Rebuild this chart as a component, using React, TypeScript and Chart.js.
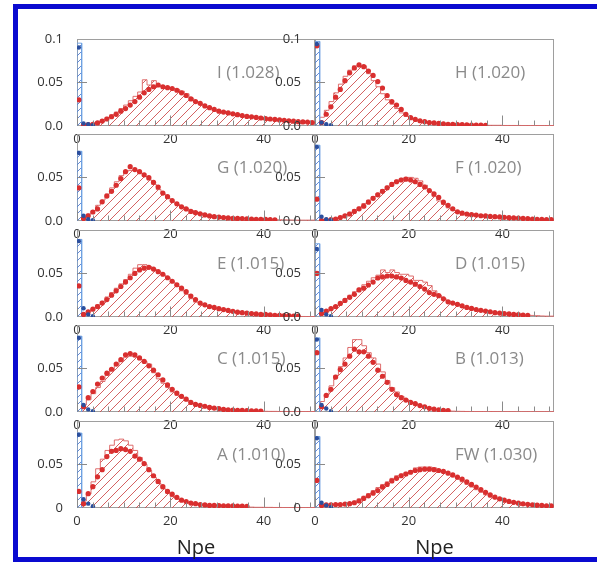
import React, { useEffect, useRef } from 'react';
import { Chart, registerables } from 'chart.js';
Chart.register(...registerables);

// ---- data: bins 0..50 (bin i spans [i, i+1]) ----
const I_DOTS = [0.030, 0.001, 0.0015, 0.002, 0.0035, 0.0056, 0.008, 0.0106, 0.0134, 0.017,
  0.020, 0.024, 0.028, 0.033, 0.038, 0.042, 0.045, 0.047, 0.045, 0.044,
  0.043, 0.041, 0.038, 0.035, 0.031, 0.028, 0.026, 0.023, 0.021, 0.019,
  0.017, 0.016, 0.015, 0.014, 0.013, 0.012, 0.011, 0.0105, 0.0098, 0.0092,
  0.0085, 0.008, 0.0075, 0.007, 0.0065, 0.006, 0.0055, 0.005, 0.0047, 0.0045,
  0.004];
const I_HIST = [0, 0, 0.001, 0.002, 0.003, 0.005, 0.007, 0.010, 0.013, 0.016,
  0.020, 0.024, 0.029, 0.034, 0.039, 0.053, 0.047, 0.052, 0.046, 0.045,
  0.044, 0.043, 0.042, 0.040, 0.037, 0.032, 0.028, 0.025, 0.022, 0.020,
  0.018, 0.0165, 0.015, 0.014, 0.013, 0.012, 0.011, 0.0105, 0.0098, 0.0092,
  0.0085, 0.008, 0.0075, 0.007, 0.0065, 0.006, 0.0055, 0.005, 0.0047, 0.0045,
  0.004];
const I_PED = 0.095;
const I_BLUE = [0.090, 0.003, 0.002, 0.001];

const H_DOTS = [0.092, 0.004, 0.0135, 0.022, 0.033, 0.042, 0.052, 0.061, 0.0665, 0.070,
  0.068, 0.063, 0.058, 0.051, 0.0435, 0.035, 0.028, 0.024, 0.019, 0.0135,
  0.0095, 0.0075, 0.006, 0.005, 0.004, 0.0035, 0.003, 0.0025, 0.002, 0.002,
  0.0015, 0.0015, 0.0012, 0.001, 0.001, 0.001, 0.0008, null, null, null,
  null, null, null, null, null, null, null, null, null, null,
  null];
const H_HIST = [0, 0.003, 0.010, 0.018, 0.028, 0.038, 0.048, 0.057, 0.064, 0.069,
  0.069, 0.069, 0.060, 0.052, 0.045, 0.037, 0.030, 0.025, 0.020, 0.015,
  0.011, 0.008, 0.0065, 0.005, 0.004, 0.0035, 0.003, 0.0025, 0.002, 0.002,
  0.0015, 0.0015, 0.0012, 0.001, 0.001, 0.001, 0.001, 0.0008, 0.0008, 0.0008,
  0.0008, 0.0006, 0.0006, 0.0006, 0.0006, 0.0005, 0.0005, 0.0005, 0.0005, 0.0005,
  0.0005];
const H_PED = 0.097;
const H_BLUE = [0.094, 0.004, 0.002, 0.001];

const G_DOTS = [0.038, 0.003, 0.006, 0.0103, 0.0139, 0.022, 0.0286, 0.034, 0.041, 0.0486,
  0.0566, 0.0623, 0.059, 0.0566, 0.053, 0.0497, 0.0444, 0.039, 0.032, 0.0279,
  0.0234, 0.0198, 0.0163, 0.0139, 0.011, 0.0095, 0.0082, 0.007, 0.0058, 0.005,
  0.0045, 0.004, 0.0035, 0.003, 0.003, 0.0028, 0.0025, 0.0022, 0.002, 0.002,
  0.0018, 0.0015, 0.0012, null, null, null, null, null, null, null,
  null];
const G_HIST = [0, 0.002, 0.005, 0.008, 0.012, 0.018, 0.024, 0.031, 0.038, 0.045,
  0.052, 0.057, 0.058, 0.058, 0.055, 0.051, 0.047, 0.042, 0.036, 0.031,
  0.026, 0.022, 0.019, 0.016, 0.014, 0.012, 0.010, 0.0085, 0.007, 0.006,
  0.0055, 0.005, 0.0045, 0.004, 0.0035, 0.003, 0.0028, 0.0026, 0.0024, 0.0022,
  0.002, 0.0018, 0.0016, 0.0015, 0.0014, 0.0013, 0.0012, 0.0011, 0.001, 0.001,
  0.001];
const G_PED = 0.080;
const G_BLUE = [0.078, 0.006, 0.002, 0.001];

const F_DOTS = [0.025, 0.0005, 0.001, 0.0015, 0.0023, 0.004, 0.0058, 0.008, 0.011, 0.014,
  0.017, 0.0216, 0.026, 0.030, 0.034, 0.038, 0.042, 0.045, 0.047, 0.048,
  0.047, 0.045, 0.042, 0.039, 0.035, 0.031, 0.027, 0.0216, 0.018, 0.014,
  0.0105, 0.009, 0.008, 0.0072, 0.0068, 0.006, 0.0058, 0.0053, 0.005, 0.0047,
  0.0042, 0.0038, 0.0035, 0.0034, 0.003, 0.0027, 0.0023, 0.002, 0.0018, 0.0016,
  0.0015];
const F_HIST = [0, 0.0005, 0.001, 0.0015, 0.002, 0.0035, 0.0055, 0.0075, 0.010, 0.013,
  0.016, 0.020, 0.024, 0.028, 0.032, 0.036, 0.040, 0.044, 0.047, 0.049,
  0.050, 0.050, 0.049, 0.046, 0.041, 0.034, 0.028, 0.023, 0.019, 0.015,
  0.012, 0.010, 0.0085, 0.0075, 0.007, 0.0062, 0.0058, 0.0054, 0.005, 0.0046,
  0.0042, 0.0038, 0.0035, 0.0032, 0.003, 0.0027, 0.0024, 0.0021, 0.0019, 0.0017,
  0.0015];
const F_PED = 0.087;
const F_BLUE = [0.085, 0.005, 0.002, 0.001];

const E_DOTS = [0.0356, 0.003, 0.006, 0.009, 0.012, 0.016, 0.020, 0.025, 0.030, 0.035,
  0.040, 0.045, 0.050, 0.054, 0.056, 0.057, 0.055, 0.052, 0.049, 0.045,
  0.041, 0.037, 0.033, 0.029, 0.024, 0.020, 0.016, 0.014, 0.012, 0.011,
  0.0095, 0.0085, 0.0075, 0.0065, 0.0055, 0.005, 0.0045, 0.004, 0.0035, 0.003,
  0.003, 0.0025, 0.002, 0.002, 0.0015, 0.0015, 0.001, 0.001, null, null,
  null];
const E_HIST = [0, 0.002, 0.004, 0.007, 0.010, 0.014, 0.018, 0.023, 0.028, 0.033,
  0.038, 0.043, 0.049, 0.056, 0.060, 0.060, 0.058, 0.055, 0.052, 0.048,
  0.045, 0.040, 0.035, 0.030, 0.026, 0.021, 0.017, 0.0145, 0.0125, 0.011,
  0.0097, 0.0087, 0.0077, 0.0067, 0.0058, 0.0052, 0.0046, 0.0041, 0.0036, 0.0032,
  0.003, 0.0026, 0.0022, 0.002, 0.0017, 0.0015, 0.0012, 0.001, 0.0008, 0.0006,
  0.0005];
const E_PED = 0.089;
const E_BLUE = [0.087, 0.010, 0.003, 0.001];

const D_DOTS = [0.050, 0.004, 0.0068, 0.0096, 0.012, 0.0156, 0.019, 0.0226, 0.026, 0.031,
  0.033, 0.0367, 0.040, 0.0447, 0.046, 0.047, 0.047, 0.046, 0.0447, 0.042,
  0.040, 0.0377, 0.035, 0.032, 0.028, 0.026, 0.0244, 0.0208, 0.0174, 0.016,
  0.0145, 0.0128, 0.011, 0.0098, 0.0086, 0.0077, 0.0068, 0.006, 0.005, 0.0045,
  0.004, 0.0035, 0.003, 0.0027, 0.0023, 0.002, null, null, null, null,
  null];
const D_HIST = [0, 0.002, 0.004, 0.006, 0.009, 0.013, 0.017, 0.021, 0.025, 0.029,
  0.033, 0.037, 0.041, 0.045, 0.048, 0.054, 0.051, 0.054, 0.051, 0.049,
  0.049, 0.047, 0.042, 0.042, 0.040, 0.036, 0.030, 0.025, 0.021, 0.018,
  0.015, 0.013, 0.011, 0.0095, 0.0085, 0.0075, 0.0065, 0.0058, 0.005, 0.0045,
  0.004, 0.0035, 0.003, 0.0028, 0.0025, 0.0022, 0.002, 0.0018, 0.0015, 0.0012,
  0.001];
const D_PED = 0.084;
const D_BLUE = [0.078, 0.008, 0.003, 0.001];

const C_DOTS = [0.0287, 0.006, 0.0164, 0.0235, 0.032, 0.039, 0.0445, 0.049, 0.055, 0.060,
  0.0656, 0.067, 0.0656, 0.062, 0.058, 0.053, 0.048, 0.0427, 0.0368, 0.031,
  0.026, 0.0217, 0.018, 0.0147, 0.011, 0.0087, 0.0075, 0.0066, 0.0053, 0.0045,
  0.0038, 0.003, 0.0024, 0.0022, 0.002, 0.0018, 0.0015, 0.0013, 0.0012, 0.001,
  null, null, null, null, null, null, null, null, null, null,
  null];
const C_HIST = [0, 0.003, 0.008, 0.014, 0.021, 0.028, 0.035, 0.042, 0.048, 0.054,
  0.059, 0.063, 0.064, 0.063, 0.060, 0.058, 0.055, 0.045, 0.038, 0.033,
  0.028, 0.023, 0.019, 0.016, 0.013, 0.010, 0.008, 0.007, 0.006, 0.005,
  0.004, 0.0035, 0.003, 0.0025, 0.002, 0.0018, 0.0016, 0.0014, 0.0012, 0.001,
  0.0008, 0.0008, 0.0007, 0.0007, 0.0006, 0.0006, 0.0005, 0.0005, 0.0005, 0.0005,
  0.0005];
const C_PED = 0.087;
const C_BLUE = [0.085, 0.008, 0.003, 0.001];

const B_DOTS = [0.068, 0.006, 0.019, 0.026, 0.040, 0.0487, 0.055, 0.064, 0.072, 0.069,
  0.069, 0.064, 0.057, 0.048, 0.041, 0.034, 0.026, 0.020, 0.0164, 0.0137,
  0.011, 0.0095, 0.0074, 0.006, 0.0042, 0.0032, 0.0025, 0.002, 0.0015, null,
  null, null, null, null, null, null, null, null, null, null,
  null, null, null, null, null, null, null, null, null, null,
  null];
const B_HIST = [0, 0.004, 0.012, 0.020, 0.030, 0.042, 0.052, 0.062, 0.074, 0.083,
  0.083, 0.076, 0.068, 0.062, 0.055, 0.046, 0.036, 0.028, 0.023, 0.018,
  0.014, 0.011, 0.009, 0.007, 0.005, 0.004, 0.003, 0.0025, 0.002, 0.0015,
  0.001, 0.0008, 0.0007, 0.0006, 0.0005, 0.0005, 0.0005, 0.0005, 0.0005, 0.0005,
  0.0004, 0.0004, 0.0004, 0.0004, 0.0004, 0.0004, 0.0004, 0.0004, 0.0004, 0.0004,
  0.0004];
const B_PED = 0.085;
const B_BLUE = [0.083, 0.008, 0.004, 0.001];

const A_DOTS = [0.019, 0.005, 0.0164, 0.0245, 0.0358, 0.044, 0.059, 0.065, 0.066, 0.068,
  0.067, 0.065, 0.0596, 0.056, 0.051, 0.044, 0.037, 0.0305, 0.0245, 0.019,
  0.0158, 0.0122, 0.009, 0.0074, 0.0056, 0.005, 0.004, 0.0035, 0.003, 0.003,
  0.0028, 0.0026, 0.0025, 0.0024, 0.0023, 0.0022, 0.002, null, null, null,
  null, null, null, null, null, null, null, null, null, null,
  null];
const A_HIST = [0, 0.003, 0.008, 0.016, 0.030, 0.045, 0.056, 0.066, 0.072, 0.078,
  0.079, 0.077, 0.072, 0.066, 0.058, 0.050, 0.043, 0.035, 0.028, 0.022,
  0.017, 0.013, 0.010, 0.008, 0.006, 0.005, 0.004, 0.0035, 0.003, 0.003,
  0.0025, 0.0025, 0.002, 0.002, 0.002, 0.0018, 0.0015, 0.0012, 0.001, 0.0008,
  0.0008, 0.0007, 0.0007, 0.0006, 0.0006, 0.0005, 0.0005, 0.0005, 0.0005, 0.0005,
  0.0005];
const A_PED = 0.086;
const A_BLUE = [0.084, 0.010, 0.005, 0.002];

const FW_DOTS = [0.0316, 0.003, 0.0035, 0.0035, 0.004, 0.004, 0.0045, 0.005, 0.006, 0.008,
  0.011, 0.014, 0.017, 0.020, 0.024, 0.027, 0.031, 0.034, 0.037, 0.039,
  0.041, 0.043, 0.044, 0.0445, 0.0445, 0.044, 0.043, 0.042, 0.040, 0.038,
  0.0355, 0.033, 0.030, 0.027, 0.024, 0.021, 0.018, 0.015, 0.0125, 0.0105,
  0.009, 0.0075, 0.0065, 0.0055, 0.0048, 0.0042, 0.0037, 0.0032, 0.0029, 0.0026,
  0.0024];
const FW_HIST = [0, 0.002, 0.003, 0.0035, 0.0038, 0.004, 0.0045, 0.005, 0.006, 0.008,
  0.0105, 0.0135, 0.0165, 0.020, 0.0235, 0.027, 0.030, 0.034, 0.037, 0.039,
  0.041, 0.043, 0.046, 0.047, 0.047, 0.047, 0.046, 0.043, 0.041, 0.038,
  0.0355, 0.033, 0.030, 0.027, 0.024, 0.021, 0.018, 0.015, 0.0125, 0.0105,
  0.009, 0.0075, 0.0065, 0.0055, 0.0048, 0.0042, 0.0037, 0.0032, 0.0029, 0.0026,
  0.0024];
const FW_PED = 0.082;
const FW_BLUE = [0.080, 0.006, 0.003, 0.001];

const X_TICKS = [0, 20, 40];
const X_TICK_LABELS = ['0', '20', '40'];
const Y_TICKS = [0, 0.05, 0.1];
const Y_LABELS_TOP = ['0.0', '0.05', '0.1'];
const Y_LABELS_MID = ['0.0', '0.05', ''];
const Y_LABELS_BOTTOM = ['0', '0.05', ''];
const X_MAX = 51;
const Y_MAX = 0.1;
const MINOR_STEP = 20 / 6;

type PanelDef = {
  name: string; dots: (number | null)[]; hist: number[]; ped: number; blue: number[];
  col: number; row: number; yLabels: string[];
};

const PANELS: PanelDef[] = [
  { name: 'I (1.028)', dots: I_DOTS, hist: I_HIST, ped: I_PED, blue: I_BLUE, col: 0, row: 0, yLabels: Y_LABELS_TOP },
  { name: 'H (1.020)', dots: H_DOTS, hist: H_HIST, ped: H_PED, blue: H_BLUE, col: 1, row: 0, yLabels: Y_LABELS_TOP },
  { name: 'G (1.020)', dots: G_DOTS, hist: G_HIST, ped: G_PED, blue: G_BLUE, col: 0, row: 1, yLabels: Y_LABELS_MID },
  { name: 'F (1.020)', dots: F_DOTS, hist: F_HIST, ped: F_PED, blue: F_BLUE, col: 1, row: 1, yLabels: Y_LABELS_MID },
  { name: 'E (1.015)', dots: E_DOTS, hist: E_HIST, ped: E_PED, blue: E_BLUE, col: 0, row: 2, yLabels: Y_LABELS_MID },
  { name: 'D (1.015)', dots: D_DOTS, hist: D_HIST, ped: D_PED, blue: D_BLUE, col: 1, row: 2, yLabels: Y_LABELS_MID },
  { name: 'C (1.015)', dots: C_DOTS, hist: C_HIST, ped: C_PED, blue: C_BLUE, col: 0, row: 3, yLabels: Y_LABELS_MID },
  { name: 'B (1.013)', dots: B_DOTS, hist: B_HIST, ped: B_PED, blue: B_BLUE, col: 1, row: 3, yLabels: Y_LABELS_MID },
  { name: 'A (1.010)', dots: A_DOTS, hist: A_HIST, ped: A_PED, blue: A_BLUE, col: 0, row: 4, yLabels: Y_LABELS_BOTTOM },
  { name: 'FW (1.030)', dots: FW_DOTS, hist: FW_HIST, ped: FW_PED, blue: FW_BLUE, col: 1, row: 4, yLabels: Y_LABELS_BOTTOM },
];

// ---- layout ----
const COL_LEFT = [77, 315];
const COL_W = [238, 239];
const ROW_TOP = [31, 126, 222, 317, 413];
const ROW_H = 95;
const PL = 66, PT = 14, PR = 14, PB = 58;
const FONT = '"Open Sans", "DejaVu Sans", sans-serif';

function makeHatch(ctx: CanvasRenderingContext2D, color: string, s: number) {
  const c = document.createElement('canvas');
  c.width = s; c.height = s;
  const g = c.getContext('2d')!;
  g.strokeStyle = color;
  g.lineWidth = 1;
  g.beginPath();
  g.moveTo(-1, s + 1); g.lineTo(s + 1, -1);
  g.moveTo(-1, 1); g.lineTo(1, -1);
  g.moveTo(s - 1, s + 1); g.lineTo(s + 1, s - 1);
  g.stroke();
  return ctx.createPattern(c, 'repeat')!;
}

function Panel({ p }: { p: PanelDef }) {
  const ref = useRef<HTMLCanvasElement>(null);
  const w = COL_W[p.col] + PL + PR;
  const h = ROW_H + PT + PB;
  const left = COL_LEFT[p.col] - PL;
  const top = ROW_TOP[p.row] - PT;

  useEffect(() => {
    const canvas = ref.current!;
    const ctx = canvas.getContext('2d')!;
    const redHatch = makeHatch(ctx, 'rgba(205,70,70,0.85)', 9);
    const blueHatch = makeHatch(ctx, 'rgba(50,100,200,0.75)', 7);

    const last = p.hist.length - 1;
    const histPts: { x: number; y: number }[] = [{ x: 1, y: 0 }];
    for (let i = 1; i <= last; i++) histPts.push({ x: i, y: p.hist[i] });
    histPts.push({ x: last + 1, y: p.hist[last] });

    const pedPts = [{ x: 0, y: 0 }, { x: 0, y: p.ped }, { x: 1, y: p.ped }, { x: 1, y: 0 }];
    const redDots = p.dots.map((v, i) => (v == null ? null : { x: i + 0.4, y: v })).filter(Boolean) as any[];
    const blueDots = p.blue.map((v, i) => ({ x: i + 0.4, y: v }));

    const decor = {
      id: 'decor',
      beforeDatasetsDraw(chart: any) {
        const a = chart.chartArea;
        const c = chart.ctx;
        c.save();
        c.strokeStyle = '#9e9e9e';
        c.lineWidth = 1;
        c.strokeRect(Math.round(a.left) + 0.5, Math.round(a.top) + 0.5, Math.round(a.right - a.left) - 1, Math.round(a.bottom - a.top) - 1);
        c.restore();
      },
      afterDatasetsDraw(chart: any) {
        const a = chart.chartArea;
        const c = chart.ctx;
        const xs = chart.scales.x, ys = chart.scales.y;
        c.save();
        c.strokeStyle = '#8a8a8a';
        c.lineWidth = 1;
        c.beginPath();
        const bottom = Math.round(a.bottom) - 0.5;
        for (let k = 0; k * MINOR_STEP <= X_MAX; k++) {
          const v = k * MINOR_STEP;
          const px = Math.round(xs.getPixelForValue(v)) + 0.5;
          const len = k % 6 === 0 ? 10 : 5;
          c.moveTo(px, bottom);
          c.lineTo(px, bottom - len);
        }
        const py = Math.round(ys.getPixelForValue(0.05)) + 0.5;
        c.moveTo(a.left, py);
        c.lineTo(a.left + 10, py);
        c.stroke();

        c.fillStyle = '#8a8a8a';
        c.font = `17px ${FONT}`;
        c.textAlign = 'left';
        c.textBaseline = 'middle';
        c.fillText(p.name, a.left + 140, a.top + 34);

        if (p.row === 4) {
          c.fillStyle = '#222';
          c.font = `20px ${FONT}`;
          c.textAlign = 'center';
          c.fillText('Npe', (a.left + a.right) / 2, a.bottom + 40);
        }
        c.restore();
      },
    };

    const chart = new Chart(canvas, {
      type: 'scatter',
      data: {
        datasets: [
          {
            type: 'line', data: histPts, stepped: 'after', showLine: true, fill: 'origin',
            backgroundColor: redHatch, borderColor: 'rgba(220,95,95,0.9)', borderWidth: 1,
            pointRadius: 0, order: 4,
          } as any,
          {
            type: 'line', data: pedPts, showLine: true, fill: 'origin',
            backgroundColor: blueHatch, borderColor: 'rgba(110,160,225,0.95)', borderWidth: 1,
            pointRadius: 0, order: 3,
          } as any,
          {
            type: 'scatter', data: redDots, pointRadius: 2.6, pointBackgroundColor: '#d92f2f',
            pointBorderWidth: 0, order: 2,
          } as any,
          {
            type: 'scatter', data: blueDots, pointRadius: 2.2, pointBackgroundColor: '#2b4f9e',
            pointBorderWidth: 0, order: 1,
          } as any,
        ],
      },
      options: {
        animation: false,
        responsive: false,
        devicePixelRatio: 1,
        events: [],
        layout: { padding: { left: 0, top: PT, right: PR, bottom: 0 } },
        plugins: { legend: { display: false }, tooltip: { enabled: false } },
        scales: {
          x: {
            type: 'linear', min: 0, max: X_MAX,
            afterBuildTicks: (s: any) => { s.ticks = X_TICKS.map((v) => ({ value: v })); },
            afterFit: (s: any) => { s.height = PB; },
            grid: { display: false, drawTicks: false },
            border: { display: false },
            ticks: {
              autoSkip: false, maxRotation: 0, padding: 5, color: '#333',
              font: { family: FONT, size: 13 },
              callback: (_v: any, i: number) => X_TICK_LABELS[i],
            },
          },
          y: {
            type: 'linear', min: 0, max: Y_MAX,
            afterBuildTicks: (s: any) => { s.ticks = Y_TICKS.map((v) => ({ value: v })); },
            afterFit: (s: any) => { s.width = PL; },
            grid: { display: false, drawTicks: false },
            border: { display: false },
            ticks: {
              autoSkip: false, padding: 14, color: '#333',
              font: { family: FONT, size: 13 },
              callback: (_v: any, i: number) => p.yLabels[i],
            },
          },
        },
      } as any,
      plugins: [decor],
    });
    return () => chart.destroy();
  }, []);

  return (
    <canvas
      ref={ref}
      width={w}
      height={h}
      style={{ position: 'absolute', left, top, width: w, height: h }}
    />
  );
}

export default function App() {
  return (
    <div style={{ position: 'absolute', left: 0, top: 0, width: 597, height: 562, overflow: 'hidden', background: '#fff' }}>
      <div style={{ position: 'absolute', left: 13, top: 4, width: 700, height: 558, boxSizing: 'border-box', border: '5px solid #0a0ad0' }} />
      {PANELS.map((p) => <Panel key={p.name} p={p} />)}
    </div>
  );
}
